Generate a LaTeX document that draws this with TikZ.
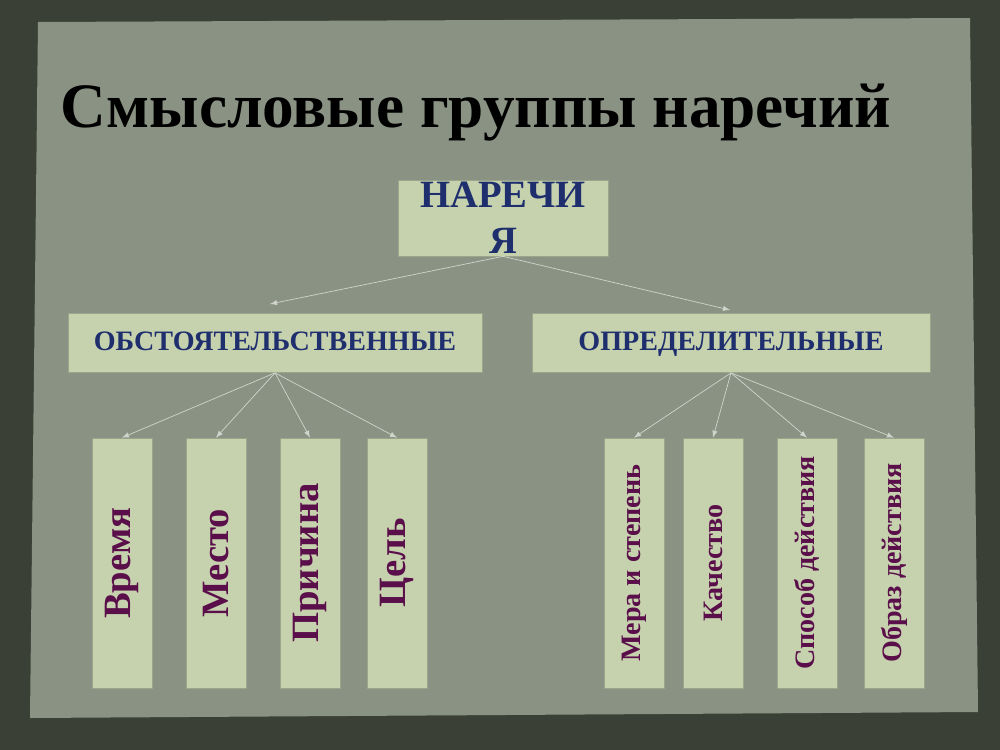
\documentclass[tikz,border=0pt]{standalone}
\usepackage{fontspec}
\setmainfont{Liberation Serif}
\usetikzlibrary{positioning}
\definecolor{frame}{HTML}{3B4037}
\definecolor{paper}{HTML}{8A9383}
\definecolor{boxfill}{HTML}{C6D2AE}
\definecolor{boxline}{HTML}{9AA58A}
\definecolor{headblue}{HTML}{1F2F6E}
\definecolor{leafpurple}{HTML}{5A0F4A}
\definecolor{arrowgrey}{HTML}{D0D4CC}
\tikzset{
  group/.style={draw=boxline,fill=boxfill,font=\bfseries\fontsize{16}{18}\selectfont,
    text=headblue,minimum height=1.18cm,inner sep=0pt,text height=9pt,text depth=1pt},
  leaf/.style={draw=boxline,fill=boxfill,minimum width=1.2cm,minimum height=5cm,inner sep=0pt},
  leaftext/.style={rotate=90,text=leafpurple,font=\bfseries\fontsize{#1}{#1}\selectfont},
  link/.style={draw=arrowgrey,thin,-latex}
}
\begin{document}
\begin{tikzpicture}[x=0.02cm,y=-0.02cm]
  \useasboundingbox (0,0) rectangle (1000,750);
  \fill[frame] (0,0) rectangle (1000,750);
  \fill[paper] (38,22) -- (970,18) -- (978,712) -- (30,718) -- cycle;

  % title
  \node (title) [font=\bfseries\fontsize{36}{40}\selectfont] at (476,113) {Смысловые группы наречий};

  % root and groups
  \node (root) [draw=boxline,fill=boxfill,text=headblue,minimum width=4.2cm,minimum height=1.52cm,
      inner sep=0pt,align=center,font=\bfseries\fontsize{22}{26}\selectfont]
      at (503,218) {НАРЕЧИ\\Я};
  \node (circ) [group,minimum width=8.28cm] at (275,343) {ОБСТОЯТЕЛЬСТВЕННЫЕ};
  \node (attr) [group,minimum width=7.96cm] at (731,343) {ОПРЕДЕЛИТЕЛЬНЫЕ};

  % leaves
  \node (time)   [leaf] at (122,563) {}; \node[leaftext=22] at (time)   {Время};
  \node (place)  [leaf] at (216,563) {}; \node[leaftext=22] at (place)  {Место};
  \node (reason) [leaf] at (310,563) {}; \node[leaftext=22] at (reason) {Причина};
  \node (goal)   [leaf] at (397,563) {}; \node[leaftext=22] at (goal)   {Цель};
  \node (measure)[leaf] at (634,563) {}; \node[leaftext=16] at (measure){Мера и степень};
  \node (quality)[leaf] at (713,563) {}; \node[leaftext=16] at (quality){Качество};
  \node (manner) [leaf] at (807,563) {}; \node[leaftext=16] at (manner) {Способ действия};
  \node (mode)   [leaf] at (894,563) {}; \node[leaftext=16] at (mode)   {Образ действия};

  % connectors
  \draw[link] (root.south) -- (270,304);
  \draw[link] (root.south) -- (730,310);
  \foreach \t in {time,place,reason,goal}
    \draw[link] (circ.south) -- (\t.north);
  \foreach \t in {measure,quality,manner,mode}
    \draw[link] (attr.south) -- (\t.north);
\end{tikzpicture}
\end{document}
